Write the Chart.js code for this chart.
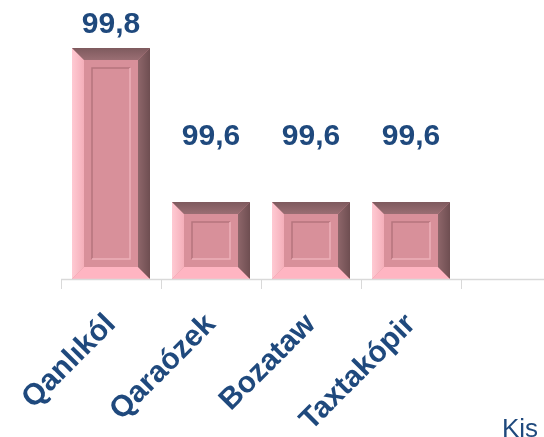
<!DOCTYPE html>
<html>
<head>
<meta charset="utf-8">
<script src="https://cdn.jsdelivr.net/npm/chart.js@4"></script>
<style>
  html, body { margin: 0; padding: 0; background: #fff; overflow: hidden; }
  #wrap { position: relative; width: 580px; height: 437px; }
  #note { position: absolute; left: 502px; top: 413px; font: 26px "Liberation Sans", Arial, sans-serif; color: #1F497D; white-space: nowrap; }
</style>
</head>
<body>
<div id="wrap">
  <canvas id="barChart" width="580" height="437"></canvas>
  <div id="note">Kis</div>
</div>
<script>
// Districts and values
const districts = ['Qanlıkól', 'Qaraózek', 'Bozataw', 'Taxtakópir', ''];
const values = [99.8, 99.6, 99.6, 99.6, null];

// how far above the bar top each value label sits (px)
const labelGap = [15, 57, 57, 57, 0];

const navy = '#1F497D';

// Bevelled "button" look of the bars
const bevelBars = {
  id: 'bevelBars',
  afterDatasetsDraw(chart) {
    const ctx = chart.ctx;
    chart.getDatasetMeta(0).data.forEach((bar, i) => {
      if (values[i] == null) return;
      const p = bar.getProps(['x', 'y', 'base', 'width'], true);
      const l = p.x - p.width / 2, r = p.x + p.width / 2;
      const t = p.y, b = Math.min(p.base, chart.chartArea.bottom);
      const e = 12;

      ctx.save();
      const poly = (pts, color) => {
        ctx.beginPath();
        ctx.moveTo(pts[0][0], pts[0][1]);
        pts.slice(1).forEach(q => ctx.lineTo(q[0], q[1]));
        ctx.closePath();
        ctx.fillStyle = color;
        ctx.fill();
      };
      // left
      const gl = ctx.createLinearGradient(l, 0, l + e, 0);
      gl.addColorStop(0, '#FFCAD3');
      gl.addColorStop(1, '#F4AEB9');
      poly([[l, t], [l + e, t + e], [l + e, b - e], [l, b]], gl);
      // bottom
      poly([[l, b], [l + e, b - e], [r - e, b - e], [r, b]], '#FFB5C2');
      // top
      const gt = ctx.createLinearGradient(0, t, 0, t + e);
      gt.addColorStop(0, '#7E5A5E');
      gt.addColorStop(1, '#9A6E73');
      poly([[l, t], [r, t], [r - e, t + e], [l + e, t + e]], gt);
      // right
      const gr = ctx.createLinearGradient(r - e, 0, r, 0);
      gr.addColorStop(0, '#8E666A');
      gr.addColorStop(1, '#6E4E51');
      poly([[r, t], [r, b], [r - e, b - e], [r - e, t + e]], gr);

      // engraved inner panel
      const k = 20;
      ctx.lineWidth = 1.5;
      ctx.strokeStyle = '#B5747E';
      ctx.beginPath();
      ctx.moveTo(l + k, b - k);
      ctx.lineTo(l + k, t + k);
      ctx.lineTo(r - k, t + k);
      ctx.stroke();
      ctx.strokeStyle = '#EDB0B9';
      ctx.beginPath();
      ctx.moveTo(r - k, t + k);
      ctx.lineTo(r - k, b - k);
      ctx.lineTo(l + k, b - k);
      ctx.stroke();

      // value label
      ctx.fillStyle = navy;
      ctx.font = 'bold 30px "Liberation Sans", Arial, sans-serif';
      ctx.textAlign = 'center';
      ctx.textBaseline = 'alphabetic';
      ctx.fillText(String(values[i]).replace('.', ','), p.x, t - labelGap[i]);
      ctx.restore();
    });
  }
};

// category axis line, starting at the first category edge
const baseLine = {
  id: 'baseLine',
  afterDraw(chart) {
    const xs = chart.scales.x;
    const ctx = chart.ctx;
    const y = Math.round(chart.chartArea.bottom) + 0.5;
    ctx.save();
    ctx.strokeStyle = '#D9D9D9';
    ctx.lineWidth = 1.5;
    ctx.beginPath();
    ctx.moveTo(xs.getPixelForValue(-0.5), y);
    ctx.lineTo(chart.width, y);
    ctx.stroke();
    ctx.restore();
  }
};

const ctx1 = document.getElementById('barChart').getContext('2d');

const myBarChart = new Chart(ctx1, {
  type: 'bar',
  data: {
    labels: districts,
    datasets: [{
      data: values,
      backgroundColor: '#D8909A',
      borderWidth: 0,
      barPercentage: 0.78,
      categoryPercentage: 1
    }]
  },
  options: {
    responsive: false,
    animation: false,
    devicePixelRatio: 1,
    layout: {
      padding: { left: 61, right: 19, top: 48, bottom: 0 }
    },
    scales: {
      y: {
        display: false,
        min: 99.5,
        max: 99.8
      },
      x: {
        // labels run off the bottom edge, as in the original
        afterFit(scale) { scale.height = 158; },
        grid: {
          offset: true,
          drawOnChartArea: false,
          tickLength: 10,
          color: '#D9D9D9'
        },
        border: { display: false },
        ticks: {
          minRotation: 45,
          maxRotation: 45,
          padding: 18,
          color: navy,
          font: { family: '"Liberation Sans", Arial, sans-serif', size: 30, weight: 'bold' }
        }
      }
    },
    plugins: {
      legend: { display: false },
      tooltip: { enabled: false }
    }
  },
  plugins: [bevelBars, baseLine]
});
</script>
</body>
</html>
